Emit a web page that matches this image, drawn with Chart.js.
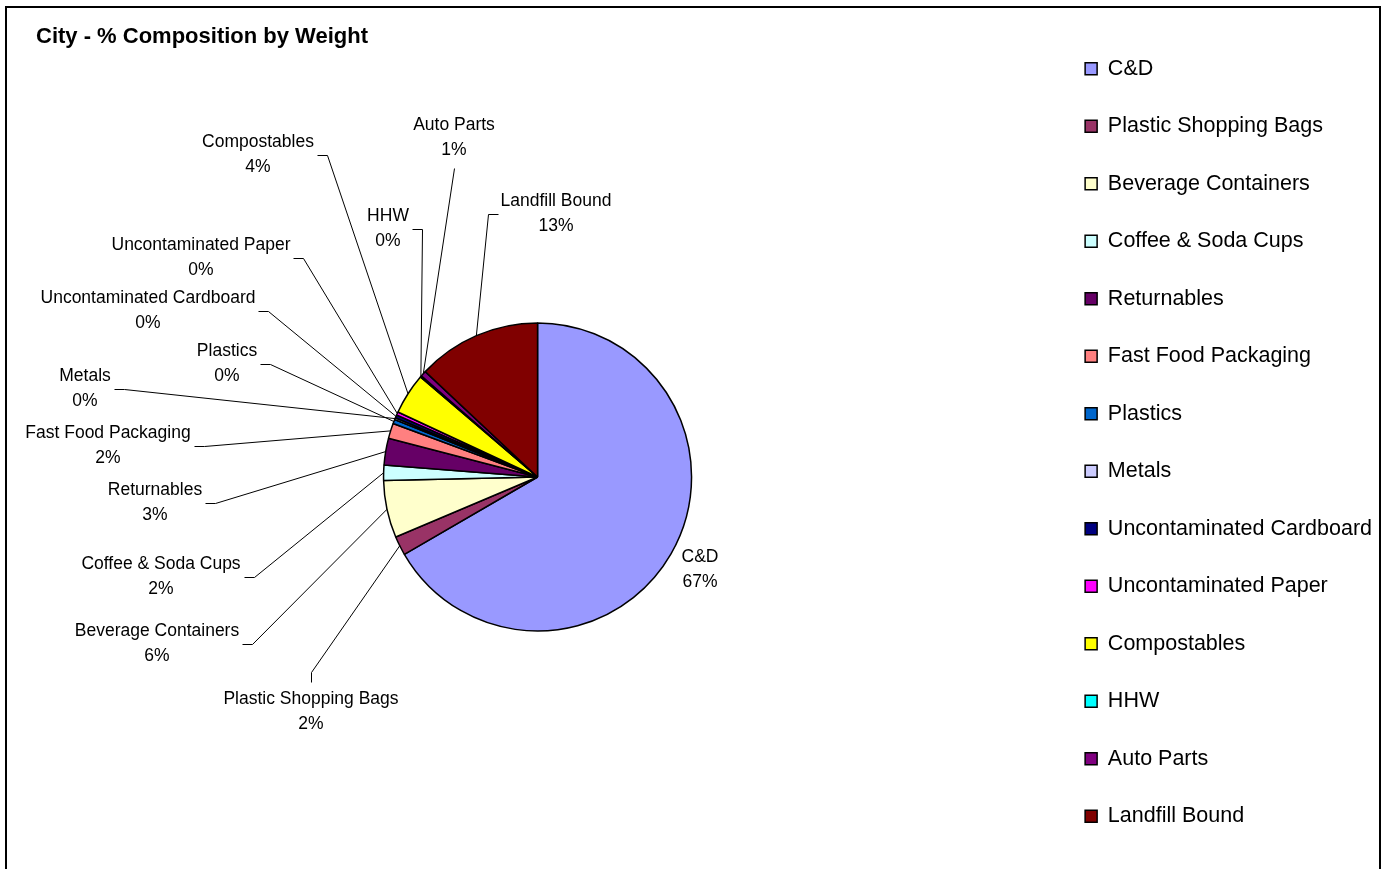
<!DOCTYPE html>
<html>
<head>
<meta charset="utf-8">
<title>City - % Composition by Weight</title>
<script src="https://cdn.jsdelivr.net/npm/chart.js@4.4.1/dist/chart.umd.min.js"></script>
<style>
  html, body { margin: 0; padding: 0; background: #fff; overflow: hidden; }
  #frame { position: absolute; left: 5px; top: 6px; width: 1372px; height: 900px; border: 2px solid #000; pointer-events: none; }
  #wrap { position: absolute; left: 0; top: 0; width: 1382px; height: 954px; }
</style>
</head>
<body>
<div id="frame"></div>
<div id="wrap"><canvas id="pieChart"></canvas></div>
<script>
// 品目ごとの重量比（%）
const categories = [
  'C&D', 'Plastic Shopping Bags', 'Beverage Containers', 'Coffee & Soda Cups',
  'Returnables', 'Fast Food Packaging', 'Plastics', 'Metals',
  'Uncontaminated Cardboard', 'Uncontaminated Paper', 'Compostables', 'HHW',
  'Auto Parts', 'Landfill Bound'
];
const weights = [66.6, 2.0, 6.0, 1.6, 2.8, 1.6, 0.45, 0.2, 0.3, 0.35, 4.3, 0.15, 0.6, 13.0];
const colors = [
  '#9999FF', '#993366', '#FFFFCC', '#CCFFFF', '#660066', '#FF8080', '#0066CC',
  '#CCCCFF', '#000080', '#FF00FF', '#FFFF00', '#00FFFF', '#800080', '#800000'
];

// ラベルの位置 [x, y, 引き出し線の向き]
const labelSpots = [
  [700, 557, 'none'], [311, 699, 'top'], [157, 631, 'right'], [161, 564, 'right'],
  [155, 490, 'right'], [108, 433, 'right'], [227, 351, 'right'], [85, 376, 'right'],
  [148, 298, 'right'], [201, 245, 'right'], [258, 142, 'right'], [388, 216, 'right'],
  [454, 125, 'bottom'], [556, 201, 'left']
];

const FONT = '"Liberation Sans", Arial, sans-serif';

// タイトル
const titlePlugin = {
  id: 'cityTitle',
  afterDraw(chart) {
    const ctx = chart.ctx;
    ctx.save();
    ctx.font = 'bold 22px ' + FONT;
    ctx.fillStyle = '#000';
    ctx.textAlign = 'left';
    ctx.textBaseline = 'middle';
    ctx.fillText('City - % Composition by Weight', 36, 37);
    ctx.restore();
  }
};

// 引き出し線付きのラベル
const calloutPlugin = {
  id: 'callouts',
  afterDatasetsDraw(chart) {
    const ctx = chart.ctx;
    const arcs = chart.getDatasetMeta(0).data;
    const total = weights.reduce(function (a, b) { return a + b; }, 0);
    ctx.save();
    ctx.font = '17.5px ' + FONT;
    ctx.fillStyle = '#000';
    ctx.strokeStyle = '#000';
    ctx.lineWidth = 1;
    ctx.textAlign = 'center';
    ctx.textBaseline = 'middle';
    arcs.forEach(function (arc, i) {
      const x = labelSpots[i][0];
      const y = labelSpots[i][1];
      const side = labelSpots[i][2];
      const name = categories[i];
      const pct = Math.round(weights[i] / total * 100) + '%';
      ctx.fillText(name, x, y);
      ctx.fillText(pct, x, y + 25);
      if (side === 'none') return;

      const p = arc.getProps(['x', 'y', 'startAngle', 'endAngle', 'outerRadius'], true);
      const mid = (p.startAngle + p.endAngle) / 2;
      const ex = p.x + Math.cos(mid) * p.outerRadius;
      const ey = p.y + Math.sin(mid) * p.outerRadius;
      const half = Math.max(ctx.measureText(name).width, ctx.measureText(pct).width) / 2;
      let ax, ay, bx, by;
      if (side === 'right') {
        ax = x + half + 3; ay = y + 13; bx = ax + 10; by = ay;
      } else if (side === 'left') {
        ax = x - half - 3; ay = y + 13; bx = ax - 10; by = ay;
      } else if (side === 'top') {
        ax = x; ay = y - 17; bx = x; by = ay - 10;
      } else {
        ax = x; ay = y + 43; bx = x; by = ay;
      }
      ctx.beginPath();
      ctx.moveTo(Math.round(ax) + 0.5, Math.round(ay) + 0.5);
      ctx.lineTo(Math.round(bx) + 0.5, Math.round(by) + 0.5);
      ctx.lineTo(ex, ey);
      ctx.stroke();
    });
    ctx.restore();
  }
};

const pieChart = document.getElementById('pieChart');
new Chart(pieChart, {
  type: 'pie',
  data: {
    labels: categories,
    datasets: [
      {
        data: weights,
        backgroundColor: colors,
        borderColor: '#000',
        borderWidth: 1.5,
        radius: 154
      }
    ]
  },
  options: {
    responsive: true,
    maintainAspectRatio: false,
    animation: false,
    layout: {
      padding: { top: 22, bottom: 22, left: 26, right: 0 }
    },
    plugins: {
      title: { display: false },
      tooltip: { enabled: false },
      legend: {
        position: 'right',
        align: 'start',
        labels: {
          boxWidth: 12,
          boxHeight: 12,
          padding: 36,
          color: '#000',
          font: { family: FONT, size: 21.5 }
        }
      }
    }
  },
  plugins: [calloutPlugin, titlePlugin]
});
</script>
</body>
</html>
